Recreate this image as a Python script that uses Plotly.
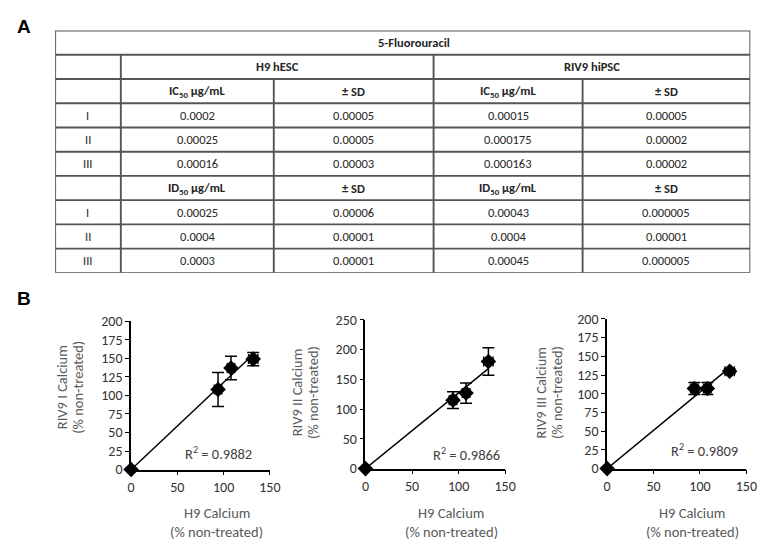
import numpy as np
import plotly.graph_objects as go

# ---------------- Data ----------------
table_title = "5-Fluorouracil"
cell_lines = ["H9 hESC", "RIV9 hiPSC"]
row_labels = ["I", "II", "III"]
ic_header = ["IC<sub>50</sub> µg/mL", "± SD", "IC<sub>50</sub> µg/mL", "± SD"]
id_header = ["ID<sub>50</sub> µg/mL", "± SD", "ID<sub>50</sub> µg/mL", "± SD"]
ic50_h9 = ["0.0002", "0.00025", "0.00016"]
ic50_h9_sd = ["0.00005", "0.00005", "0.00003"]
ic50_riv9 = ["0.00015", "0.000175", "0.000163"]
ic50_riv9_sd = ["0.00005", "0.00002", "0.00002"]
id50_h9 = ["0.00025", "0.0004", "0.0003"]
id50_h9_sd = ["0.00006", "0.00001", "0.00001"]
id50_riv9 = ["0.00043", "0.0004", "0.00045"]
id50_riv9_sd = ["0.000005", "0.00001", "0.000005"]

h9_calcium = [0, 94, 108, 132]
h9_calcium_sd = [0, 4, 4, 5]
riv9_I = [0, 108, 137, 149]
riv9_I_sd = [0, 23, 16, 9]
riv9_II = [0, 115, 127, 180]
riv9_II_sd = [0, 14, 17, 23]
riv9_III = [0, 107, 107, 130]
riv9_III_sd = [0, 8, 8, 3]
r2_values = ["0.9882", "0.9866", "0.9809"]
y_titles = ["RIV9 I Calcium", "RIV9 II Calcium", "RIV9 III Calcium"]
x_title = "H9 Calcium"
unit_title = "(% non-treated)"
x_ticks = [0, 50, 100, 150]
y_ticks = [[0, 25, 50, 75, 100, 125, 150, 175, 200],
           [0, 50, 100, 150, 200, 250],
           [0, 25, 50, 75, 100, 125, 150, 175, 200]]
y_max = [200, 250, 200]

# ---------------- Layout helpers ----------------
W, H = 767, 551
OX, OY = 8, 8  # page body margin offset
FONT = "Carlito, Lato, 'Liberation Sans', sans-serif"
TXT = "#262626"
GREY = "#595959"

def px_x(p):
    return (p - OX) / W

def px_y(p):
    return 1 - (p - OY) / H

fig = go.Figure()

def note(x, y, text, size=12, color=TXT, angle=0, family=FONT):
    fig.add_annotation(x=px_x(x), y=px_y(y), xref="paper", yref="paper", text=text,
                       showarrow=False, xanchor="center", yanchor="middle", textangle=angle,
                       font=dict(family=family, size=size, color=color))

# ---------------- Scatter panels ----------------
panels = [
    dict(y=riv9_I, sd=riv9_I_sd, x0=129.5, x1=271, y0=476, y1=323),
    dict(y=riv9_II, sd=riv9_II_sd, x0=368.5, x1=511, y0=475, y1=321.5),
    dict(y=riv9_III, sd=riv9_III_sd, x0=615, x1=757, y0=475, y1=320.5),
]
r2_pos = [(219, 459), (472, 460), (714, 456)]
ytitle_x = [(59, 75), (299, 315), (548, 564)]
ytitle_y = [391, 396, 397]
xtitle_x = [217, 456, 702]

for i, p in enumerate(panels):
    ax = "" if i == 0 else str(i + 1)
    xa, ya = "x" + ax, "y" + ax
    xv = np.array(h9_calcium, dtype=float)
    yv = np.array(p["y"], dtype=float)
    slope = float((xv * yv).sum() / (xv * xv).sum())
    xl = np.array([0, xv.max()])
    fig.add_trace(go.Scatter(x=xl, y=slope * xl, mode="lines",
                             line=dict(color="black", width=1.5),
                             xaxis=xa, yaxis=ya, showlegend=False,
                             hoverinfo="skip", cliponaxis=False))
    fig.add_trace(go.Scatter(
        x=h9_calcium, y=p["y"], mode="markers",
        marker=dict(symbol="diamond", size=12, color="black"),
        error_y=dict(type="data", array=p["sd"], color="black", thickness=1.5, width=6),
        error_x=dict(type="data", array=h9_calcium_sd, color="black", thickness=1.5, width=5),
        xaxis=xa, yaxis=ya, showlegend=False, cliponaxis=False))

    axis_common = dict(showgrid=False, zeroline=False, showline=True,
                       linecolor="black", linewidth=1.6, ticks="outside",
                       ticklen=4, tickwidth=1.3, tickcolor="black",
                       tickfont=dict(family=FONT, size=14, color="#333333"))
    fig.update_layout(**{
        "xaxis" + ax: dict(domain=[px_x(p["x0"]), px_x(p["x1"])], range=[0, 150],
                           tickvals=x_ticks, anchor=ya, **axis_common),
        "yaxis" + ax: dict(domain=[px_y(p["y0"]), px_y(p["y1"])], range=[0, y_max[i]],
                           tickvals=y_ticks[i], anchor=xa, **axis_common),
    })
    note(r2_pos[i][0], r2_pos[i][1], "R<sup>2</sup> = " + r2_values[i], size=14.5, color="#404040")
    note(ytitle_x[i][0], ytitle_y[i], y_titles[i], size=14.5, color=GREY, angle=-90)
    note(ytitle_x[i][1], ytitle_y[i], unit_title, size=14.5, color=GREY, angle=-90)
    note(xtitle_x[i], 521, x_title, size=14.5, color=GREY)
    note(xtitle_x[i], 540, unit_title, size=14.5, color=GREY)

# ---------------- Table (own axis) ----------------
col_w = [67, 156, 163, 152, 171]
edges = np.concatenate([[0], np.cumsum(col_w)]).astype(float)
n_rows = 10
fig.update_layout(
    xaxis4=dict(domain=[px_x(52), px_x(761)], range=[0, edges[-1]], visible=False,
                fixedrange=True, anchor="y4"),
    yaxis4=dict(domain=[px_y(273), px_y(23)], range=[n_rows, 0], visible=False,
                fixedrange=True, anchor="x4"),
)
fig.add_trace(go.Scatter(x=[0], y=[0], mode="markers", marker=dict(opacity=0),
                         xaxis="x4", yaxis="y4", showlegend=False, hoverinfo="skip"))

LINE = dict(color="#555555", width=1.9)
shapes = []
for k in range(n_rows + 1):
    shapes.append(dict(type="line", xref="x4", yref="y4", x0=0, x1=edges[-1], y0=k, y1=k, line=LINE))
for xe, ys in [(edges[0], 0), (edges[-1], 0), (edges[1], 1), (edges[3], 1), (edges[2], 2), (edges[4], 2)]:
    shapes.append(dict(type="line", xref="x4", yref="y4", x0=xe, x1=xe, y0=ys, y1=n_rows, line=LINE))
fig.update_layout(shapes=shapes)

centers = [(edges[j] + edges[j + 1]) / 2 for j in range(5)]

def cell(xc, row, text, bold=False):
    fig.add_annotation(x=xc, y=row + 0.5, xref="x4", yref="y4",
                       text=("<b>%s</b>" % text) if bold else text,
                       showarrow=False, xanchor="center", yanchor="middle",
                       font=dict(family=FONT, size=12.5, color=TXT))

cell((edges[0] + edges[-1]) / 2 + 12, 0, table_title, bold=True)
cell((edges[1] + edges[3]) / 2, 1, cell_lines[0], bold=True)
cell((edges[3] + edges[5]) / 2, 1, cell_lines[1], bold=True)
for j, t in enumerate(ic_header):
    cell(centers[j + 1], 2, t, bold=True)
for j, t in enumerate(id_header):
    cell(centers[j + 1], 6, t, bold=True)
for r in range(3):
    for base, vals in [(3, [ic50_h9, ic50_h9_sd, ic50_riv9, ic50_riv9_sd]),
                       (7, [id50_h9, id50_h9_sd, id50_riv9, id50_riv9_sd])]:
        cell(centers[0], base + r, row_labels[r])
        for j, col in enumerate(vals):
            cell(centers[j + 1], base + r, col[r])

# Panel letters
note(20, 19, "<b>A</b>", size=19, color="black", family="'Liberation Sans', Arial, sans-serif")
note(20, 300, "<b>B</b>", size=19, color="black", family="'Liberation Sans', Arial, sans-serif")

fig.update_layout(width=W, height=H, margin=dict(l=0, r=0, t=0, b=0),
                  paper_bgcolor="white", plot_bgcolor="white", showlegend=False)

fig.write_html("out.html")
